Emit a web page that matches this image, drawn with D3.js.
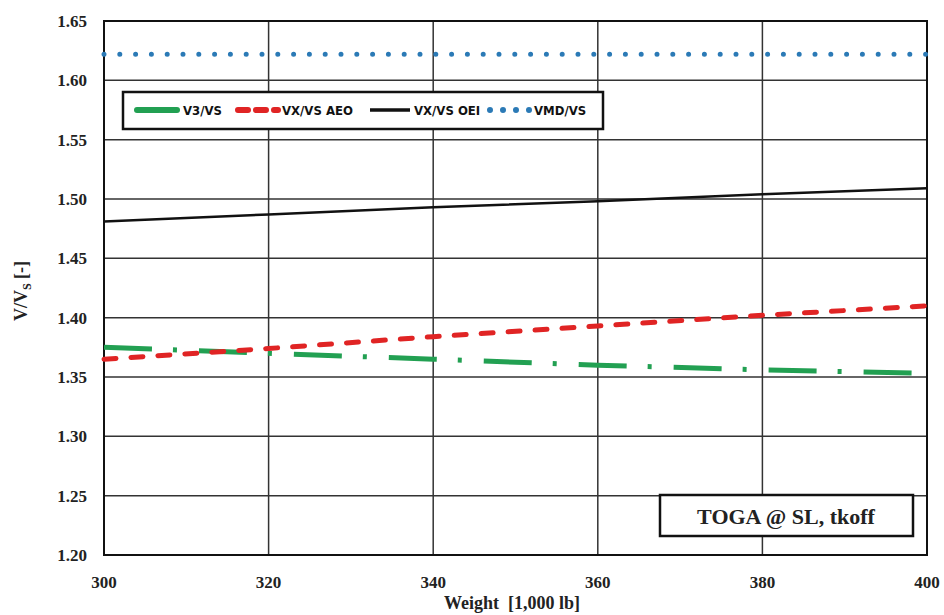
<!DOCTYPE html>
<html>
<head>
<meta charset="utf-8">
<script src="https://cdn.jsdelivr.net/npm/d3@7"></script>
<style>
  body { margin: 0; background: #fff; }
  svg { display: block; }
</style>
</head>
<body>
<div id="chart"></div>
<script>
// Data
var weights = [300, 320, 340, 360, 380, 400];
var v3 = [1.375, 1.370, 1.365, 1.360, 1.356, 1.353];
var vxAeo = [1.365, 1.374, 1.384, 1.393, 1.402, 1.410];
var vxOei = [1.481, 1.487, 1.493, 1.498, 1.504, 1.509];
var vmd = [1.622, 1.622, 1.622, 1.622, 1.622, 1.622];
var xTicks = [300, 320, 340, 360, 380, 400];
var yTicks = [1.20, 1.25, 1.30, 1.35, 1.40, 1.45, 1.50, 1.55, 1.60, 1.65];

var series = [
    { name: 'V3/VS', values: v3, color: '#22a052', width: 5, dash: '48 21 4 22', cap: 'butt' },
    { name: 'VX/VS AEO', values: vxAeo, color: '#e02424', width: 5, dash: '12 15', cap: 'round' },
    { name: 'VX/VS OEI', values: vxOei, color: '#111', width: 2.5, dash: null, cap: 'butt' },
    { name: 'VMD/VS', values: vmd, color: '#2b7ab6', width: 5, dash: '0 15.8', cap: 'round' }
];

var W = 944, H = 615;
var plotLeft = 104, plotRight = 927, plotTop = 21, plotBottom = 555;
var serif = '"Liberation Serif", "Times New Roman", serif';

var svg = d3.select('#chart').append('svg')
    .attr('width', W)
    .attr('height', H);

var x = d3.scaleLinear().domain([300, 400]).range([plotLeft, plotRight]);
var y = d3.scaleLinear().domain([1.20, 1.65]).range([plotBottom, plotTop]);

// Grid
svg.append('g')
    .selectAll('line')
    .data(xTicks)
    .enter()
    .append('line')
    .attr('x1', function (d) { return x(d); })
    .attr('x2', function (d) { return x(d); })
    .attr('y1', plotTop)
    .attr('y2', plotBottom)
    .attr('stroke', '#333')
    .attr('stroke-width', 1.5);

svg.append('g')
    .selectAll('line')
    .data(yTicks)
    .enter()
    .append('line')
    .attr('x1', plotLeft)
    .attr('x2', plotRight)
    .attr('y1', function (d) { return y(d); })
    .attr('y2', function (d) { return y(d); })
    .attr('stroke', '#333')
    .attr('stroke-width', 1.5);

// Frame
svg.append('rect')
    .attr('x', plotLeft)
    .attr('y', plotTop)
    .attr('width', plotRight - plotLeft)
    .attr('height', plotBottom - plotTop)
    .attr('fill', 'none')
    .attr('stroke', '#111')
    .attr('stroke-width', 2);

// Tick labels
svg.append('g')
    .selectAll('text')
    .data(yTicks)
    .enter()
    .append('text')
    .text(function (d) { return d.toFixed(2); })
    .attr('x', 87)
    .attr('y', function (d) { return y(d); })
    .attr('dy', '0.35em')
    .attr('text-anchor', 'end')
    .attr('font-family', serif)
    .attr('font-weight', 'bold')
    .attr('font-size', '17px')
    .attr('fill', '#222');

svg.append('g')
    .selectAll('text')
    .data(xTicks)
    .enter()
    .append('text')
    .text(function (d) { return d; })
    .attr('x', function (d) { return x(d); })
    .attr('y', 588)
    .attr('text-anchor', 'middle')
    .attr('font-family', serif)
    .attr('font-weight', 'bold')
    .attr('font-size', '17px')
    .attr('fill', '#222');

// Axis titles
svg.append('text')
    .text('Weight  [1,000 lb]')
    .attr('x', 512)
    .attr('y', 609)
    .attr('text-anchor', 'middle')
    .attr('font-family', serif)
    .attr('font-weight', 'bold')
    .attr('font-size', '18px')
    .attr('fill', '#222')
    .style('white-space', 'pre');

var yTitle = svg.append('text')
    .attr('transform', 'translate(27,291) rotate(-90)')
    .attr('text-anchor', 'middle')
    .attr('font-family', serif)
    .attr('font-weight', 'bold')
    .attr('font-size', '18px')
    .attr('fill', '#222');
yTitle.append('tspan').text('V/V');
yTitle.append('tspan').text('S').attr('font-size', '12px').attr('dy', 4);
yTitle.append('tspan').text(' [-]').attr('dy', -4);

// Lines
var line = d3.line()
    .x(function (d, i) { return x(weights[i]); })
    .y(function (d) { return y(d); });

svg.append('g')
    .selectAll('path')
    .data(series)
    .enter()
    .append('path')
    .attr('d', function (d) { return line(d.values); })
    .attr('fill', 'none')
    .attr('stroke', function (d) { return d.color; })
    .attr('stroke-width', function (d) { return d.width; })
    .attr('stroke-dasharray', function (d) { return d.dash; })
    .attr('stroke-linecap', function (d) { return d.cap; });

// Legend
var legend = svg.append('g');
legend.append('rect')
    .attr('x', 123)
    .attr('y', 92)
    .attr('width', 480)
    .attr('height', 37)
    .attr('fill', '#fff')
    .attr('stroke', '#111')
    .attr('stroke-width', 2.5);

var legendX = [137, 238, 370, 490];
var legendItems = legend.selectAll('g')
    .data(series)
    .enter()
    .append('g')
    .attr('transform', function (d, i) { return 'translate(' + legendX[i] + ',110)'; });

legendItems.append('line')
    .attr('x1', 0)
    .attr('x2', 40)
    .attr('y1', 0)
    .attr('y2', 0)
    .attr('stroke', function (d) { return d.color; })
    .attr('stroke-width', function (d) { return d.width + 1; })
    .attr('stroke-linecap', function (d) { return d.name === 'V3/VS' ? 'round' : d.cap; })
    .attr('stroke-dasharray', function (d) {
        if (d.name === 'V3/VS') return null;
        if (d.name === 'VX/VS AEO') return '10 8';
        return d.dash ? '0 13' : null;
    });

legendItems.append('text')
    .text(function (d) { return d.name; })
    .attr('x', function (d, i) { return i === 0 ? 46 : 44; })
    .attr('y', 0)
    .attr('dy', '0.35em')
    .attr('font-family', '"Liberation Sans Narrow", "DejaVu Sans Condensed", sans-serif')
    .attr('font-weight', 'bold')
    .attr('font-size', '13px')
    .attr('fill', '#111');

// Annotation box
svg.append('rect')
    .attr('x', 660)
    .attr('y', 495)
    .attr('width', 253)
    .attr('height', 41)
    .attr('fill', '#fff')
    .attr('stroke', '#111')
    .attr('stroke-width', 2.5);

svg.append('text')
    .text('TOGA @ SL, tkoff')
    .attr('x', 786)
    .attr('y', 524)
    .attr('text-anchor', 'middle')
    .attr('font-family', serif)
    .attr('font-weight', 'bold')
    .attr('font-size', '22px')
    .attr('fill', '#222');
</script>
</body>
</html>
